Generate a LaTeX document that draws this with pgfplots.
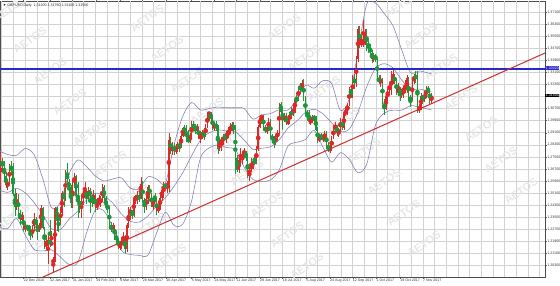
\documentclass[border=0pt]{standalone}
\usepackage{fontspec}
\setmainfont{Liberation Sans}
\usepackage{pgfplots}
\usepackage{pgfplotstable}
\pgfplotsset{compat=1.18}
\definecolor{upc}{RGB}{222,40,40}
\definecolor{dnc}{RGB}{30,150,60}
\definecolor{bbc}{RGB}{125,125,175}
\definecolor{gridc}{RGB}{210,210,210}
\definecolor{wm}{RGB}{230,230,230}
\definecolor{lvl}{RGB}{40,40,200}
\definecolor{tl}{RGB}{205,45,45}

\pgfplotstableread{
i o h l c
0 1.2590 1.2775 1.2550 1.2735
1 1.2735 1.2740 1.2660 1.2680
2 1.2680 1.2725 1.2600 1.2620
3 1.2620 1.2650 1.2540 1.2560
4 1.2560 1.2600 1.2530 1.2580
5 1.2580 1.2700 1.2570 1.2685
6 1.2685 1.2725 1.2630 1.2655
7 1.2655 1.2710 1.2490 1.2505
8 1.2505 1.2535 1.2355 1.2415
9 1.2415 1.2510 1.2400 1.2490
10 1.2490 1.2500 1.2360 1.2380
11 1.2380 1.2400 1.2300 1.2335
12 1.2335 1.2385 1.2310 1.2355
13 1.2355 1.2365 1.2260 1.2275
14 1.2275 1.2315 1.2250 1.2290
15 1.2290 1.2300 1.2270 1.2280
16 1.2280 1.2300 1.2240 1.2260
17 1.2260 1.2290 1.2200 1.2215
18 1.2215 1.2300 1.2210 1.2290
19 1.2290 1.2375 1.2260 1.2340
20 1.2340 1.2350 1.2290 1.2300
21 1.2300 1.2330 1.2200 1.2270
22 1.2270 1.2310 1.2250 1.2290
23 1.2290 1.2430 1.2280 1.2410
24 1.2410 1.2415 1.2270 1.2280
25 1.2280 1.2285 1.2140 1.2165
26 1.2165 1.2230 1.2130 1.2170
27 1.2170 1.2240 1.2040 1.2200
28 1.2200 1.2330 1.2150 1.2170
29 1.2170 1.2260 1.2160 1.2180
30 1.2055 1.2085 1.1986 1.2060
31 1.2060 1.2417 1.2050 1.2410
32 1.2410 1.2420 1.2260 1.2340
33 1.2340 1.2360 1.2250 1.2335
34 1.2335 1.2420 1.2300 1.2375
35 1.2375 1.2520 1.2360 1.2510
36 1.2510 1.2545 1.2420 1.2470
37 1.2470 1.2660 1.2460 1.2650
38 1.2650 1.2706 1.2560 1.2580
39 1.2580 1.2600 1.2480 1.2550
40 1.2550 1.2560 1.2410 1.2445
41 1.2445 1.2590 1.2410 1.2580
42 1.2580 1.2640 1.2545 1.2620
43 1.2620 1.2630 1.2480 1.2490
44 1.2490 1.2580 1.2345 1.2480
45 1.2480 1.2490 1.2380 1.2410
46 1.2410 1.2490 1.2345 1.2475
47 1.2475 1.2545 1.2430 1.2510
48 1.2510 1.2580 1.2490 1.2520
49 1.2520 1.2530 1.2440 1.2485
50 1.2485 1.2550 1.2470 1.2530
51 1.2530 1.2540 1.2380 1.2490
52 1.2490 1.2500 1.2420 1.2460
53 1.2460 1.2530 1.2440 1.2505
54 1.2505 1.2510 1.2385 1.2410
55 1.2410 1.2460 1.2400 1.2440
56 1.2440 1.2500 1.2430 1.2460
57 1.2460 1.2490 1.2420 1.2462
58 1.2460 1.2570 1.2450 1.2550
59 1.2550 1.2560 1.2450 1.2475
60 1.2475 1.2490 1.2400 1.2420
61 1.2420 1.2460 1.2380 1.2410
62 1.2410 1.2420 1.2280 1.2290
63 1.2290 1.2320 1.2250 1.2270
64 1.2270 1.2310 1.2250 1.2295
65 1.2295 1.2300 1.2200 1.2220
66 1.2220 1.2250 1.2180 1.2200
67 1.2200 1.2210 1.2140 1.2165
68 1.2165 1.2190 1.2130 1.2170
69 1.2170 1.2220 1.2140 1.2180
70 1.2180 1.2250 1.2170 1.2215
71 1.2215 1.2225 1.2109 1.2140
72 1.2140 1.2310 1.2120 1.2295
73 1.2295 1.2420 1.2280 1.2380
74 1.2380 1.2420 1.2340 1.2395
75 1.2395 1.2400 1.2340 1.2365
76 1.2365 1.2490 1.2350 1.2475
77 1.2475 1.2500 1.2440 1.2480
78 1.2480 1.2520 1.2440 1.2490
79 1.2490 1.2510 1.2450 1.2475
80 1.2475 1.2615 1.2470 1.2570
81 1.2570 1.2590 1.2450 1.2460
82 1.2460 1.2480 1.2380 1.2440
83 1.2440 1.2490 1.2400 1.2470
84 1.2470 1.2560 1.2440 1.2550
85 1.2550 1.2560 1.2480 1.2500
86 1.2500 1.2510 1.2420 1.2425
87 1.2420 1.2490 1.2400 1.2480
88 1.2480 1.2510 1.2450 1.2460
89 1.2460 1.2480 1.2365 1.2395
90 1.2395 1.2430 1.2380 1.2410
91 1.2410 1.2500 1.2400 1.2480
92 1.2480 1.2550 1.2460 1.2530
93 1.2530 1.2580 1.2480 1.2560
94 1.2560 1.2570 1.2540 1.2555
95 1.2555 1.2590 1.2510 1.2570
96 1.2570 1.2905 1.2515 1.2860
97 1.2860 1.2880 1.2770 1.2790
98 1.2790 1.2850 1.2760 1.2810
99 1.2810 1.2840 1.2760 1.2795
100 1.2795 1.2835 1.2770 1.2800
101 1.2800 1.2850 1.2780 1.2830
102 1.2830 1.2850 1.2780 1.2820
103 1.2820 1.2900 1.2810 1.2890
104 1.2890 1.2950 1.2880 1.2940
105 1.2940 1.2960 1.2890 1.2920
106 1.2920 1.2960 1.2850 1.2870
107 1.2870 1.2930 1.2840 1.2850
108 1.2850 1.2910 1.2840 1.2890
109 1.2890 1.2990 1.2880 1.2960
110 1.2960 1.2990 1.2920 1.2945
111 1.2945 1.2965 1.2900 1.2940
112 1.2940 1.2970 1.2910 1.2943
113 1.2940 1.2950 1.2870 1.2880
114 1.2880 1.2920 1.2840 1.2885
115 1.2885 1.2930 1.2870 1.2900
116 1.2900 1.2940 1.2860 1.2890
117 1.2890 1.2970 1.2880 1.2950
118 1.2950 1.3048 1.2940 1.3030
119 1.3030 1.3050 1.2990 1.3045
120 1.3045 1.3050 1.2980 1.3000
121 1.3000 1.3020 1.2930 1.2955
122 1.2955 1.2980 1.2920 1.2960
123 1.2960 1.2990 1.2920 1.2950
124 1.2950 1.2960 1.2770 1.2800
125 1.2800 1.2860 1.2790 1.2850
126 1.2850 1.2880 1.2790 1.2855
127 1.2855 1.2900 1.2830 1.2880
128 1.2880 1.2910 1.2860 1.2878
129 1.2880 1.2920 1.2840 1.2890
130 1.2890 1.2950 1.2880 1.2920
131 1.2920 1.2975 1.2900 1.2945
132 1.2945 1.2980 1.2920 1.2950
133 1.2950 1.2980 1.2900 1.2947
134 1.2950 1.2960 1.2636 1.2745
135 1.2745 1.2760 1.2650 1.2660
136 1.2660 1.2750 1.2640 1.2730
137 1.2730 1.2810 1.2700 1.2750
138 1.2750 1.2780 1.2700 1.2760
139 1.2760 1.2810 1.2750 1.2785
140 1.2785 1.2790 1.2720 1.2745
141 1.2745 1.2750 1.2610 1.2630
142 1.2630 1.2680 1.2590 1.2670
143 1.2670 1.2740 1.2650 1.2690
144 1.2690 1.2740 1.2670 1.2720
145 1.2720 1.2760 1.2700 1.2710
146 1.2710 1.2820 1.2700 1.2800
147 1.2800 1.2960 1.2790 1.2950
148 1.2950 1.3030 1.2940 1.3005
149 1.3005 1.3030 1.2980 1.3025
150 1.3025 1.3030 1.2930 1.2940
151 1.2940 1.2960 1.2910 1.2925
152 1.2925 1.2960 1.2900 1.2940
153 1.2940 1.3010 1.2920 1.2990
154 1.2990 1.3000 1.2875 1.2885
155 1.2885 1.2900 1.2850 1.2870
156 1.2870 1.2890 1.2810 1.2845
157 1.2845 1.2900 1.2830 1.2880
158 1.2880 1.2930 1.2860 1.2910
159 1.2910 1.3110 1.2900 1.3100
160 1.3100 1.3115 1.3030 1.3050
161 1.3050 1.3080 1.2930 1.3000
162 1.3000 1.3040 1.2980 1.3020
163 1.3020 1.3040 1.2960 1.2970
164 1.2970 1.3020 1.2960 1.2990
165 1.2990 1.3050 1.2970 1.3040
166 1.3040 1.3080 1.3000 1.3036
167 1.3040 1.3090 1.3020 1.3060
168 1.3060 1.3140 1.3040 1.3130
169 1.3130 1.3160 1.3110 1.3127
170 1.3130 1.3220 1.3120 1.3210
171 1.3210 1.3240 1.3170 1.3206
172 1.3210 1.3260 1.3180 1.3240
173 1.3240 1.3267 1.3120 1.3140
174 1.3140 1.3150 1.3030 1.3040
175 1.3040 1.3060 1.2990 1.3030
176 1.3030 1.3060 1.2970 1.2990
177 1.2990 1.3010 1.2960 1.2993
178 1.2990 1.3030 1.2975 1.3010
179 1.3010 1.3030 1.2980 1.3008
180 1.3010 1.3020 1.2920 1.2930
181 1.2930 1.2950 1.2840 1.2860
182 1.2860 1.2900 1.2850 1.2880
183 1.2880 1.2910 1.2860 1.2870
184 1.2870 1.2900 1.2850 1.2880
185 1.2880 1.2920 1.2860 1.2900
186 1.2900 1.2920 1.2810 1.2820
187 1.2820 1.2850 1.2780 1.2800
188 1.2800 1.2840 1.2774 1.2803
189 1.2800 1.2890 1.2790 1.2880
190 1.2880 1.2950 1.2870 1.2935
191 1.2935 1.2980 1.2920 1.2950
192 1.2950 1.2960 1.2890 1.2910
193 1.2910 1.2940 1.2880 1.2930
194 1.2930 1.3010 1.2920 1.2990
195 1.2990 1.3000 1.2930 1.2940
196 1.2940 1.3050 1.2930 1.3040
197 1.3040 1.3070 1.3020 1.3050
198 1.3050 1.3110 1.3030 1.3100
199 1.3100 1.3210 1.3090 1.3200
200 1.3200 1.3220 1.3140 1.3150
201 1.3150 1.3290 1.3140 1.3280
202 1.3280 1.3300 1.3200 1.3230
203 1.3230 1.3420 1.3210 1.3400
204 1.3400 1.3620 1.3380 1.3600
205 1.3600 1.3620 1.3470 1.3500
206 1.3500 1.3560 1.3480 1.3505
207 1.3500 1.3657 1.3480 1.3510
208 1.3510 1.3600 1.3490 1.3570
209 1.3570 1.3600 1.3450 1.3500
210 1.3500 1.3520 1.3440 1.3480
211 1.3480 1.3500 1.3410 1.3440
212 1.3440 1.3460 1.3370 1.3400
213 1.3400 1.3440 1.3380 1.3420
214 1.3420 1.3430 1.3380 1.3400
215 1.3400 1.3410 1.3260 1.3270
216 1.3270 1.3290 1.3230 1.3250
217 1.3250 1.3290 1.3210 1.3260
218 1.3260 1.3270 1.3100 1.3110
219 1.3110 1.3130 1.3027 1.3070
220 1.3070 1.3160 1.3060 1.3150
221 1.3150 1.3200 1.3120 1.3190
222 1.3190 1.3240 1.3170 1.3230
223 1.3230 1.3320 1.3160 1.3240
224 1.3240 1.3338 1.3230 1.3280
225 1.3280 1.3300 1.3230 1.3250
226 1.3250 1.3270 1.3160 1.3180
227 1.3180 1.3240 1.3170 1.3190
228 1.3190 1.3210 1.3120 1.3180
229 1.3180 1.3200 1.3140 1.3190
230 1.3190 1.3220 1.3140 1.3200
231 1.3200 1.3260 1.3170 1.3204
232 1.3200 1.3290 1.3170 1.3270
233 1.3270 1.3280 1.3120 1.3140
234 1.3140 1.3160 1.3080 1.3130
235 1.3130 1.3270 1.3120 1.3260
236 1.3260 1.3300 1.3230 1.3280
237 1.3280 1.3320 1.3240 1.3276
238 1.3280 1.3320 1.3040 1.3060
239 1.3060 1.3100 1.3040 1.3080
240 1.3080 1.3170 1.3060 1.3150
241 1.3150 1.3160 1.3100 1.3140
242 1.3140 1.3180 1.3110 1.3160
243 1.3160 1.3220 1.3140 1.3190
244 1.3190 1.3220 1.3170 1.3186
245 1.3190 1.3200 1.3100 1.3120
246 1.3120 1.3176 1.3110 1.3150
}\candles

\pgfplotstableread{
i u m l
-1 1.2790 1.2530 1.2285
4 1.2765 1.2514 1.2274
9 1.2760 1.2541 1.2341
14 1.2805 1.2511 1.2231
19 1.2765 1.2447 1.2137
24 1.2606 1.2366 1.2126
29 1.2413 1.2273 1.2133
34 1.2447 1.2267 1.2087
39 1.2636 1.2336 1.2036
44 1.2729 1.2389 1.2049
49 1.2685 1.2465 1.2245
54 1.2623 1.2509 1.2395
59 1.2590 1.2490 1.2390
64 1.2603 1.2443 1.2283
69 1.2610 1.2370 1.2130
74 1.2542 1.2322 1.2102
79 1.2537 1.2317 1.2097
84 1.2617 1.2357 1.2097
89 1.2603 1.2423 1.2243
94 1.2574 1.2478 1.2382
99 1.2830 1.2555 1.2295
104 1.3020 1.2645 1.2305
109 1.3110 1.2757 1.2457
114 1.3060 1.2859 1.2739
119 1.3070 1.2909 1.2809
124 1.3080 1.2928 1.2828
129 1.3075 1.2921 1.2811
134 1.3075 1.2917 1.2797
139 1.3070 1.2861 1.2681
144 1.3000 1.2800 1.2600
149 1.3027 1.2807 1.2587
154 1.3036 1.2816 1.2596
159 1.3062 1.2862 1.2662
164 1.3060 1.2940 1.2820
169 1.3126 1.2986 1.2846
174 1.3224 1.3044 1.2864
179 1.3205 1.3065 1.2925
184 1.3255 1.3035 1.2815
189 1.3235 1.2975 1.2715
194 1.3058 1.2918 1.2778
199 1.3133 1.2933 1.2733
204 1.3445 1.3045 1.2645
209 1.3760 1.3214 1.2700
214 1.3770 1.3336 1.2960
219 1.3700 1.3367 1.3040
224 1.3619 1.3339 1.3059
229 1.3459 1.3259 1.3059
234 1.3309 1.3199 1.3089
239 1.3319 1.3199 1.3079
244 1.3306 1.3186 1.3066
246 1.3300 1.3180 1.3060
}\bands

\tikzset{wmk/.style={text=wm, rotate=35, font=\fontsize{11}{11}\bfseries\selectfont}}

\begin{document}
\begin{tikzpicture}
\begin{axis}[
  at={(0pt,8pt)}, anchor=south west,
  width=545pt, height=276pt, scale only axis,
  xmin=-0.41, xmax=310.84,
  ymin=1.19530, ymax=1.37829,
  axis line style={draw=black!70, line width=0.4pt},
  clip=true,
  /pgf/number format/assume math mode=true,
  font=\fontsize{3.6}{4}\selectfont,
  yticklabel pos=right,
  ytick={1.195,1.203,1.211,1.219,1.227,1.235,1.243,1.251,1.259,1.267,1.275,1.283,1.291,1.299,1.307,1.315,1.323,1.331,1.339,1.347,1.355,1.363,1.371},
  yticklabels={1.19500,1.20300,1.21100,1.21900,1.22700,1.23500,1.24300,1.25100,1.25900,1.26700,1.27500,1.28300,1.29100,1.29900,1.30700,1.31500,1.32300,1.33100,1.33900,1.34700,1.35500,1.36300,1.37100},
  yticklabel style={anchor=west, inner sep=0.6pt, text=black!80},
  xtick={-0.5,13,28,41,54.5,68,81,94.5,109,122,134.5,148,161,174.5,188,201,214.5,228,241},
  xticklabels={4 Dec 2016,22 Dec 2016,12 Jan 2017,31 Jan 2017,19 Feb 2017,9 Mar 2017,28 Mar 2017,16 Apr 2017,5 May 2017,24 May 2017,11 Jun 2017,29 Jun 2017,18 Jul 2017,6 Aug 2017,24 Aug 2017,12 Sep 2017,1 Oct 2017,19 Oct 2017,7 Nov 2017},
  xticklabel style={anchor=north west, inner sep=0.6pt, xshift=-0.5pt, text=black!80},
  tick align=outside, major tick length=1.5pt,
  tick style={draw=black!60, line width=0.3pt},
  ymajorgrids,
  extra x ticks={0.5,7.18,...,310},
  extra x tick labels={},
  extra x tick style={grid=major, major tick length=0pt},
  grid style={draw=gridc, line width=0.35pt},
]
% watermarks (clipped to the plot area)
\begin{scope}
\clip (rel axis cs:0,0) rectangle (rel axis cs:1,1);
\node[wmk] at (rel axis cs:0.018,0.971) {AETOS};
\node[wmk] at (rel axis cs:0.055,0.859) {AETOS};
\node[wmk] at (rel axis cs:0.092,0.746) {AETOS};
\node[wmk] at (rel axis cs:0.128,0.634) {AETOS};
\node[wmk] at (rel axis cs:0.165,0.522) {AETOS};
\node[wmk] at (rel axis cs:0.202,0.409) {AETOS};
\node[wmk] at (rel axis cs:0.239,0.297) {AETOS};
\node[wmk] at (rel axis cs:0.275,0.185) {AETOS};
\node[wmk] at (rel axis cs:0.312,0.072) {AETOS};
\node[wmk] at (rel axis cs:0.270,0.938) {AETOS};
\node[wmk] at (rel axis cs:0.306,0.826) {AETOS};
\node[wmk] at (rel axis cs:0.343,0.714) {AETOS};
\node[wmk] at (rel axis cs:0.380,0.601) {AETOS};
\node[wmk] at (rel axis cs:0.417,0.489) {AETOS};
\node[wmk] at (rel axis cs:0.453,0.377) {AETOS};
\node[wmk] at (rel axis cs:0.490,0.264) {AETOS};
\node[wmk] at (rel axis cs:0.527,0.152) {AETOS};
\node[wmk] at (rel axis cs:0.563,0.040) {AETOS};
\node[wmk] at (rel axis cs:0.521,0.906) {AETOS};
\node[wmk] at (rel axis cs:0.558,0.793) {AETOS};
\node[wmk] at (rel axis cs:0.594,0.681) {AETOS};
\node[wmk] at (rel axis cs:0.631,0.569) {AETOS};
\node[wmk] at (rel axis cs:0.668,0.457) {AETOS};
\node[wmk] at (rel axis cs:0.705,0.344) {AETOS};
\node[wmk] at (rel axis cs:0.741,0.232) {AETOS};
\node[wmk] at (rel axis cs:0.778,0.120) {AETOS};
\node[wmk] at (rel axis cs:0.736,0.986) {AETOS};
\node[wmk] at (rel axis cs:0.772,0.873) {AETOS};
\node[wmk] at (rel axis cs:0.809,0.761) {AETOS};
\node[wmk] at (rel axis cs:0.846,0.649) {AETOS};
\node[wmk] at (rel axis cs:0.883,0.536) {AETOS};
\node[wmk] at (rel axis cs:0.919,0.424) {AETOS};
\node[wmk] at (rel axis cs:0.956,0.312) {AETOS};
\node[wmk] at (rel axis cs:0.024,0.217) {AETOS};
\node[wmk] at (rel axis cs:0.061,0.105) {AETOS};
\end{scope}
% Bollinger bands
\addplot[bbc, line width=0.55pt, smooth, tension=0.5] table[x=i,y=u] {\bands};
\addplot[bbc, line width=0.55pt, smooth, tension=0.5] table[x=i,y=m] {\bands};
\addplot[bbc, line width=0.55pt, smooth, tension=0.5] table[x=i,y=l] {\bands};
% wicks
\addplot[upc, only marks, mark=none, restrict expr to domain={\thisrow{c}-\thisrow{o}}{0:1},
  error bars/.cd, y dir=both, y explicit, error mark=none, error bar style={line width=0.45pt, draw=upc}]
  table[x=i, y expr={(\thisrow{h}+\thisrow{l})/2}, y error expr={(\thisrow{h}-\thisrow{l})/2}] {\candles};
\addplot[dnc, only marks, mark=none, restrict expr to domain={\thisrow{o}-\thisrow{c}}{0.00001:1},
  error bars/.cd, y dir=both, y explicit, error mark=none, error bar style={line width=0.45pt, draw=dnc}]
  table[x=i, y expr={(\thisrow{h}+\thisrow{l})/2}, y error expr={(\thisrow{h}-\thisrow{l})/2}] {\candles};
% bodies
\addplot[upc, only marks, mark=none, restrict expr to domain={\thisrow{c}-\thisrow{o}}{0:1},
  error bars/.cd, y dir=both, y explicit, error mark=none, error bar style={line width=1.25pt, draw=upc}]
  table[x=i, y expr={(\thisrow{o}+\thisrow{c})/2}, y error expr={abs(\thisrow{c}-\thisrow{o})/2}] {\candles};
\addplot[dnc, only marks, mark=none, restrict expr to domain={\thisrow{o}-\thisrow{c}}{0.00001:1},
  error bars/.cd, y dir=both, y explicit, error mark=none, error bar style={line width=1.25pt, draw=dnc}]
  table[x=i, y expr={(\thisrow{o}+\thisrow{c})/2}, y error expr={abs(\thisrow{c}-\thisrow{o})/2}] {\candles};
% resistance and trend line
\addplot[lvl, line width=1.4pt] coordinates {(-0.41,1.3332) (310.84,1.3332)};
\addplot[tl, line width=1.0pt] coordinates {(24.15,1.1953) (310.84,1.3438)};
% header
\node[anchor=north west, inner sep=1pt, text=black!85, font=\fontsize{3.6}{4}\selectfont] at (rel axis cs:0.003,0.995) {▼ GBPUSD,Daily\ \ 1.31200 1.31760 1.31100 1.31500};
\end{axis}
\begin{axis}[
  at={(0pt,8pt)}, anchor=south west,
  width=545pt, height=276pt, scale only axis,
  xmin=-0.41, xmax=310.84,
  ymin=1.19530, ymax=1.37829,
  hide axis, clip=false,
]
\node[fill=lvl, text=white, inner sep=0.6pt, anchor=west, font=\fontsize{3.6}{4}\selectfont] at (rel axis cs:1,0.756) {1.33320};
\node[fill=black, text=white, inner sep=0.6pt, anchor=west, font=\fontsize{3.6}{4}\selectfont] at (rel axis cs:1,0.658) {1.31500};
\end{axis}
\pgfresetboundingbox
\path[use as bounding box] (0pt,0pt) rectangle (560pt,285pt);
\end{tikzpicture}
\end{document}
